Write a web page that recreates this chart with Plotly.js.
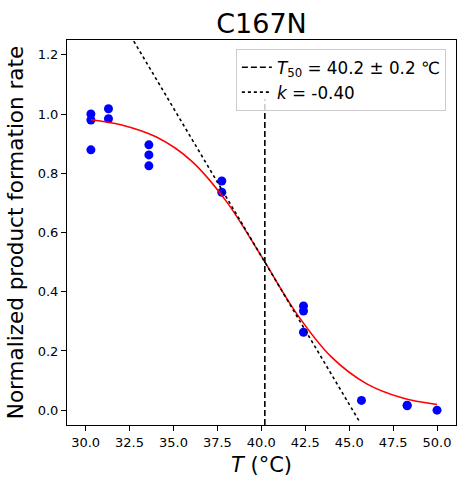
<!DOCTYPE html>
<html>
<head>
<meta charset="utf-8">
<script src="https://cdn.plot.ly/plotly-3.0.1.min.js"></script>
<style>html,body{margin:0;padding:0;background:#fff;}#chart{width:464px;height:487px;}</style>
</head>
<body>
<div id="chart"></div>
<script>
// Measured points
const tempsX = [30.3, 30.3, 30.3, 31.3, 31.3, 33.6, 33.6, 33.6, 37.75, 37.75, 42.4, 42.4, 42.4, 45.7, 48.3, 48.3, 50.0];
const rates  = [1.0, 0.98, 0.879, 1.018, 0.984, 0.896, 0.862, 0.825, 0.774, 0.736, 0.352, 0.335, 0.263, 0.033, 0.017, 0.015, 0.0];

// Fitted curve
const fitX = [30.3, 32, 34, 36, 38, 40, 42, 44, 46, 48, 50];
const fitY = [0.981, 0.964, 0.923, 0.843, 0.706, 0.520, 0.327, 0.179, 0.089, 0.042, 0.019];

// Tangent line at T50
const tanX = [30.3, 45.6];
const tanY = [1.49, -0.04];

// T50 vertical line
const t50X = [40.2, 40.2];
const t50Y = [-0.05, 1.05];

const t50Label = "<i>T</i><sub>50</sub> = 40.2 ± 0.2 ℃";
const kLabel = "<i>k</i> = -0.40";

const xTicks = [30.0, 32.5, 35.0, 37.5, 40.0, 42.5, 45.0, 47.5, 50.0];
const yTicks = [0.0, 0.2, 0.4, 0.6, 0.8, 1.0, 1.2];

const traces = [
  {x: tempsX, y: rates, type: 'scatter', mode: 'markers',
   marker: {color: '#0000ff', size: 9}, showlegend: false},
  {x: fitX, y: fitY, type: 'scatter', mode: 'lines',
   line: {color: '#ff0000', width: 1.6, shape: 'spline'}, showlegend: false},
  {x: t50X, y: t50Y, type: 'scatter', mode: 'lines', name: t50Label,
   line: {color: '#000000', width: 1.6, dash: '6px,3px'}},
  {x: tanX, y: tanY, type: 'scatter', mode: 'lines', name: kLabel,
   line: {color: '#000000', width: 1.6, dash: 'dot'}}
];

const axisCommon = {
  showline: true, linecolor: '#000', linewidth: 1, mirror: true,
  ticks: 'outside', ticklen: 5, tickwidth: 1, tickcolor: '#000',
  showgrid: false, zeroline: false,
  tickfont: {family: 'DejaVu Sans', size: 13, color: '#000'}
};

const layout = {
  width: 464, height: 487,
  margin: {l: 67, r: 8, t: 40, b: 62},
  paper_bgcolor: '#fff', plot_bgcolor: '#fff',
  font: {family: 'DejaVu Sans', color: '#000'},
  title: {text: 'C167N', font: {family: 'DejaVu Sans', size: 27, color: '#000'},
          x: 0.5, xref: 'paper', y: 1, yref: 'paper', yanchor: 'bottom', pad: {b: 7}},
  xaxis: Object.assign({}, axisCommon, {
    range: [28.94, 51.08], tickvals: xTicks, ticktext: xTicks.map(v => v.toFixed(1)),
    title: {text: '<i>T</i> (°C)', font: {family: 'DejaVu Sans', size: 21, color: '#000'}, standoff: 8}
  }),
  yaxis: Object.assign({}, axisCommon, {
    range: [-0.05, 1.25], tickvals: yTicks, ticktext: yTicks.map(v => v.toFixed(1)),
    title: {text: 'Normalized product formation rate', font: {family: 'DejaVu Sans', size: 21.5, color: '#000'}, standoff: 8}
  }),
  legend: {
    x: 0.974, y: 0.977, xanchor: 'right', yanchor: 'top',
    bgcolor: 'rgba(255,255,255,0.8)', bordercolor: '#cccccc', borderwidth: 1,
    font: {family: 'DejaVu Sans', size: 16.8, color: '#000'},
    itemwidth: 30, tracegroupgap: 0
  },
  showlegend: true
};

Plotly.newPlot('chart', traces, layout, {displayModeBar: false, staticPlot: true});
</script>
</body>
</html>
